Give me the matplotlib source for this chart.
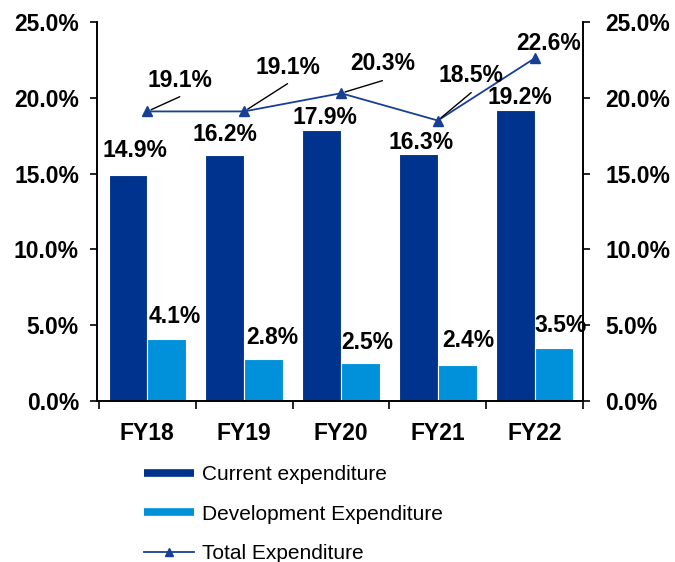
import matplotlib
matplotlib.use("Agg")
import matplotlib.pyplot as plt
from matplotlib.lines import Line2D
import numpy as np

# ---- data ----
categories = ["FY18", "FY19", "FY20", "FY21", "FY22"]
current_exp = [14.9, 16.2, 17.9, 16.3, 19.2]
development_exp = [4.1, 2.8, 2.5, 2.4, 3.5]
total_exp = [19.1, 19.1, 20.3, 18.5, 22.6]
yticks = [0, 5, 10, 15, 20, 25]

# ---- label placement (offsets from the marks, data units) ----
cur_lbl_dx = [0.07, -0.0, 0.03, 0.03, 0.05]
cur_lbl_dy = [1.6, 1.35, 0.77, 0.72, 0.79]
dev_lbl_dx = [0.08, 0.09, 0.07, 0.12, 0.07]
dev_lbl_dy = [1.44, 1.42, 1.39, 1.62, 1.51]
tot_lbl_dx = [0.335, 0.448, 0.428, 0.345, 0.149]
tot_lbl_dy = [2.07, 2.93, 1.93, 2.94, 1.01]
tot_arrow = [True, True, True, True, False]
arrow_gap = 1.1  # leader line starts this far below the label centre

DARK = "#00338D"
LIGHT = "#0091DA"
LINE = "#173F96"

plt.rcParams["font.family"] = ["Liberation Sans", "DejaVu Sans"]

fig = plt.figure(figsize=(6.75, 5.62), dpi=100)
ax = fig.add_axes([0.1437, 0.2865, 0.72, 0.6744])
ax2 = ax.twinx()

x = np.arange(len(categories))
w = 0.4
ax.bar(x - w / 2, current_exp, width=w, color=DARK, edgecolor="white", linewidth=0.8, zorder=2)
ax.bar(x + w / 2, development_exp, width=w, color=LIGHT, edgecolor="white", linewidth=0.8, zorder=2)
ax.plot(x, total_exp, color=LINE, lw=1.3, marker="^", markersize=7, zorder=3)

FS = 16.5
for i, v in enumerate(current_exp):
    ax.text(x[i] - w / 2 + cur_lbl_dx[i], v + cur_lbl_dy[i], f"{v:.1f}%",
            ha="center", va="center", fontsize=FS, fontweight="bold", zorder=5)
for i, v in enumerate(development_exp):
    ax.text(x[i] + w / 2 + dev_lbl_dx[i], v + dev_lbl_dy[i], f"{v:.1f}%",
            ha="center", va="center", fontsize=FS, fontweight="bold", zorder=5)
for i, v in enumerate(total_exp):
    tx, ty = x[i] + tot_lbl_dx[i], v + tot_lbl_dy[i]
    ax.text(tx, ty, f"{v:.1f}%", ha="center", va="center",
            fontsize=FS, fontweight="bold", zorder=5)
    if tot_arrow[i]:
        ax.annotate("", xy=(x[i], v), xytext=(tx, ty - arrow_gap),
                    arrowprops=dict(arrowstyle="-", color="black", lw=1.0,
                                    shrinkA=0, shrinkB=3), zorder=4)

ax.set_xlim(-0.52, 4.49)
for a in (ax, ax2):
    a.set_ylim(0, 25)
    a.set_yticks(yticks)
    a.set_yticklabels([f"{t:.1f}%" for t in yticks], fontsize=FS, fontweight="bold")
    a.spines["top"].set_visible(False)
    for s in ["left", "right", "bottom"]:
        a.spines[s].set_linewidth(1.2)
        a.spines[s].set_color("black")

ax.set_xticks(x)
ax.set_xticklabels(categories, fontsize=FS, fontweight="bold")
ax.set_xticks(np.arange(-0.5, 5.0, 1.0), minor=True)
ax.tick_params(axis="x", which="major", length=0, pad=15)
ax.tick_params(axis="x", which="minor", length=6, width=1.2, direction="out")
ax.tick_params(axis="y", which="major", length=5, width=1.2, direction="out", pad=8)
ax2.tick_params(axis="y", which="major", length=5, width=1.2, direction="out", pad=11)

handles = [
    Line2D([0], [0], color=DARK, lw=5.5, solid_capstyle="butt"),
    Line2D([0], [0], color=LIGHT, lw=5.5, solid_capstyle="butt"),
    Line2D([0], [0], color=LINE, lw=1.3, marker="^", markersize=6),
]
labels = ["Current expenditure", "Development Expenditure", "Total Expenditure"]
fig.legend(handles, labels, loc="upper left", bbox_to_anchor=(0.213, 0.172),
           frameon=False, fontsize=15, handlelength=2.4, handletextpad=0.4,
           labelspacing=0.98, borderpad=0, borderaxespad=0)

fig.savefig("out.png", dpi=100)
